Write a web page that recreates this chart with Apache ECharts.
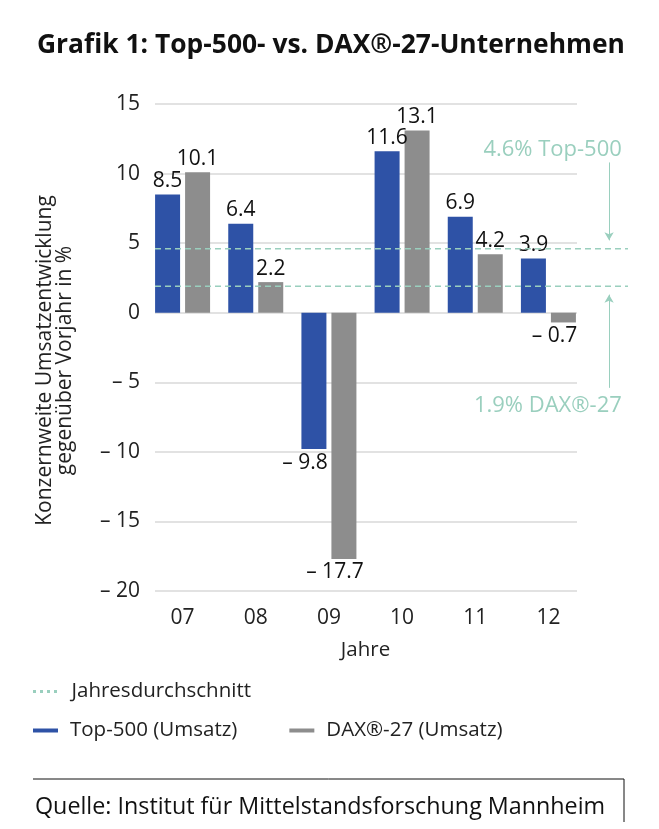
<!DOCTYPE html>
<html>
<head>
<meta charset="utf-8">
<script src="https://cdn.jsdelivr.net/npm/echarts@6/dist/echarts.min.js"></script>
<style>
  html, body { margin: 0; padding: 0; background: #fff; }
  #chart { width: 659px; height: 829px; }
</style>
</head>
<body>
<div id="chart"></div>
<script>
// Daten aus der Grafik
var years = ['07', '08', '09', '10', '11', '12'];
var top500 = [8.5, 6.4, -9.8, 11.6, 6.9, 3.9];
var dax27 = [10.1, 2.2, -17.7, 13.1, 4.2, -0.7];
var avgValues = [4.6, 1.9];
var avgNames = ['Top-500', 'DAX®-27'];
var yTicks = [-20, -15, -10, -5, 0, 5, 10, 15];

var FONT = 'Open Sans';
var BLUE = '#2e52a6';
var GRAY = '#8d8d8d';
var TEAL = '#9acfbe';

var chart = echarts.init(document.getElementById('chart'));

function fmt(v) {
  return v < 0 ? '– ' + Math.abs(v) : String(v);
}

function barData(arr) {
  return arr.map(function (v) {
    if (v < 0) {
      return { value: v, label: { position: 'bottom', offset: [-9, 0] } };
    }
    return v;
  });
}

var gridTop = 104, gridBottom = 238;

chart.setOption({
  animation: false,
  backgroundColor: '#fff',
  textStyle: { fontFamily: FONT },
  title: [{
    text: 'Grafik 1: Top-500- vs. DAX®-27-Unternehmen',
    left: 32,
    top: 27,
    textStyle: { fontFamily: FONT, fontSize: 26.4, fontWeight: 'bold', color: '#111' }
  }, {
    text: 'Quelle: Institut für Mittelstandsforschung Mannheim',
    left: 30,
    top: 791,
    textStyle: { fontFamily: FONT, fontSize: 23.3, fontWeight: 'normal', color: '#111' }
  }],
  legend: [{
    data: ['Jahresdurchschnitt'],
    left: 33,
    top: 681,
    padding: 0,
    icon: 'path://M0,0h3v3h-3zM7,0h3v3h-3zM14,0h3v3h-3zM21,0h3v3h-3z',
    itemWidth: 25,
    itemHeight: 3,
    textStyle: { fontFamily: FONT, fontSize: 20.5, color: '#222', padding: [0, 0, 0, 9] }
  }, {
    data: ['Top-500 (Umsatz)', 'DAX®-27 (Umsatz)'],
    left: 33,
    top: 720,
    padding: 0,
    icon: 'rect',
    itemWidth: 25,
    itemHeight: 4,
    itemGap: 52,
    textStyle: { fontFamily: FONT, fontSize: 20.5, color: '#222', padding: [0, 0, 0, 7] }
  }],
  grid: [
    { left: 146, right: 74, top: gridTop, bottom: gridBottom },
    { left: 155, right: 82, top: gridTop, bottom: gridBottom },
    { left: 155, right: 31, top: gridTop, bottom: gridBottom }
  ],
  xAxis: [{
    gridIndex: 0,
    type: 'category',
    data: years,
    name: 'Jahre',
    nameLocation: 'middle',
    nameGap: 49,
    nameTextStyle: { fontFamily: FONT, fontSize: 20.5, color: '#222' },
    axisLine: { show: false },
    axisTick: { show: false },
    axisLabel: { margin: 17, fontFamily: FONT, fontSize: 21, color: '#222' }
  }, {
    gridIndex: 1, type: 'value', show: false, min: 0, max: 1
  }, {
    gridIndex: 2, type: 'value', show: false, min: 0, max: 1
  }],
  yAxis: [{
    gridIndex: 0, type: 'value', min: -20, max: 15, interval: 5, show: false
  }, {
    gridIndex: 1,
    type: 'value',
    min: yTicks[0],
    max: yTicks[yTicks.length - 1],
    interval: 5,
    name: 'Konzernweite Umsatzentwicklung\ngegenüber Vorjahr in %',
    nameLocation: 'middle',
    nameGap: 80,
    nameTextStyle: { fontFamily: FONT, fontSize: 21, color: '#222', lineHeight: 20, padding: [0, 26, 0, 0] },
    axisLine: { show: false },
    axisTick: { show: false },
    axisLabel: { margin: 15, fontFamily: FONT, fontSize: 21, color: '#222', formatter: fmt },
    splitLine: { lineStyle: { color: '#d9d9d9', width: 1.5 } }
  }, {
    gridIndex: 2, type: 'value', min: -20, max: 15, show: false
  }],
  series: [{
    name: 'Top-500 (Umsatz)',
    type: 'bar',
    xAxisIndex: 0,
    yAxisIndex: 0,
    data: barData(top500),
    barWidth: 25,
    barGap: '20%',
    itemStyle: { color: BLUE },
    label: {
      show: true, position: 'top', distance: 3,
      fontFamily: FONT, fontSize: 21, color: '#111',
      formatter: function (p) { return fmt(p.value); }
    },
    z: 2
  }, {
    name: 'DAX®-27 (Umsatz)',
    type: 'bar',
    xAxisIndex: 0,
    yAxisIndex: 0,
    data: barData(dax27),
    barWidth: 25,
    barGap: '20%',
    itemStyle: { color: GRAY },
    label: {
      show: true, position: 'top', distance: 3,
      fontFamily: FONT, fontSize: 21, color: '#111',
      formatter: function (p) { return fmt(p.value); }
    },
    z: 2
  }, {
    name: 'Jahresdurchschnitt',
    type: 'line',
    xAxisIndex: 2,
    yAxisIndex: 2,
    data: [[0, avgValues[0]], [1, avgValues[0]], '-', [0, avgValues[1]], [1, avgValues[1]]],
    showSymbol: false,
    symbol: 'none',
    connectNulls: false,
    silent: true,
    itemStyle: { color: TEAL },
    lineStyle: { color: TEAL, width: 1.6, type: [6, 4] },
    z: 5,
    markLine: {
      silent: true,
      symbol: ['none', 'arrow'],
      symbolSize: [7, 8],
      lineStyle: { color: TEAL, width: 1, type: 'solid' },
      label: { show: false },
      data: [
        [{ coord: [0.96, 10.8] }, { coord: [0.96, 5.2] }],
        [{ coord: [0.96, -5.4] }, { coord: [0.96, 1.3] }]
      ]
    },
    markPoint: {
      silent: true,
      symbolSize: 0,
      label: {
        show: true,
        position: 'left',
        distance: 0,
        fontFamily: FONT,
        fontSize: 22,
        color: TEAL,
        formatter: function (p) { return p.name; }
      },
      data: [
        { name: avgValues[0] + '% ' + avgNames[0], coord: [0.987, 11.7] },
        { name: avgValues[1] + '% ' + avgNames[1], coord: [0.987, -6.7] }
      ]
    }
  }],
  graphic: [{
    type: 'polyline',
    shape: { points: [[33, 779], [624, 779], [624, 822]] },
    style: { stroke: '#111', lineWidth: 1, fill: null }
  }]
});
</script>
</body>
</html>
